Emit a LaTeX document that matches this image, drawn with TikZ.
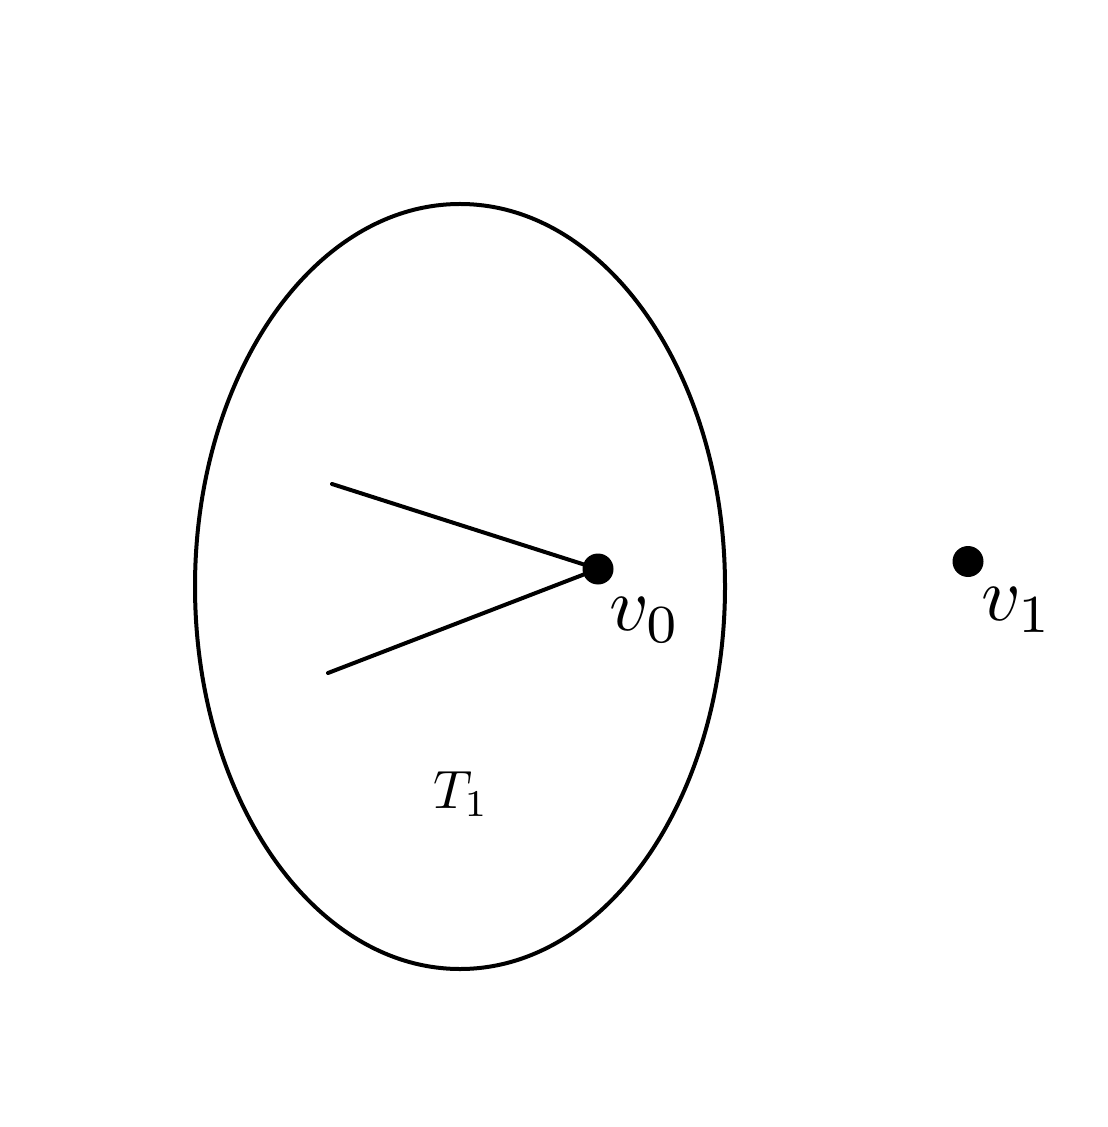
\documentclass[tikz,border=0pt]{standalone}
\usetikzlibrary{shapes.geometric}
\begin{document}
\begin{tikzpicture}[x=0.5pt,y=-0.5pt,
  edge/.style={line width=2pt, line cap=round},
  vertex/.style={circle, fill=black, inner sep=0pt, minimum size=15.5pt},
  biglabel/.style={inner sep=0pt, scale=3.83},
  tlabel/.style={inner sep=0pt, scale=2.7}]
\useasboundingbox (0,0) rectangle (1107,1127);
\draw[edge] (460,586.5) ellipse [x radius=265, y radius=382.5];
\node[vertex] (v0) at (598,569) {};
\node[vertex] (v1) at (968,561.5) {};
\coordinate (a) at (332,484);
\coordinate (b) at (328,673);
\draw[edge] (a) -- (v0.center);
\draw[edge] (b) -- (v0.center);
\node[biglabel] (l0) at (645,620) {$v_0$};
\node[biglabel] (l1) at (1017,610) {$v_1$};
\node[tlabel] (t1) at (461,794) {$T_1$};
\end{tikzpicture}
\end{document}
